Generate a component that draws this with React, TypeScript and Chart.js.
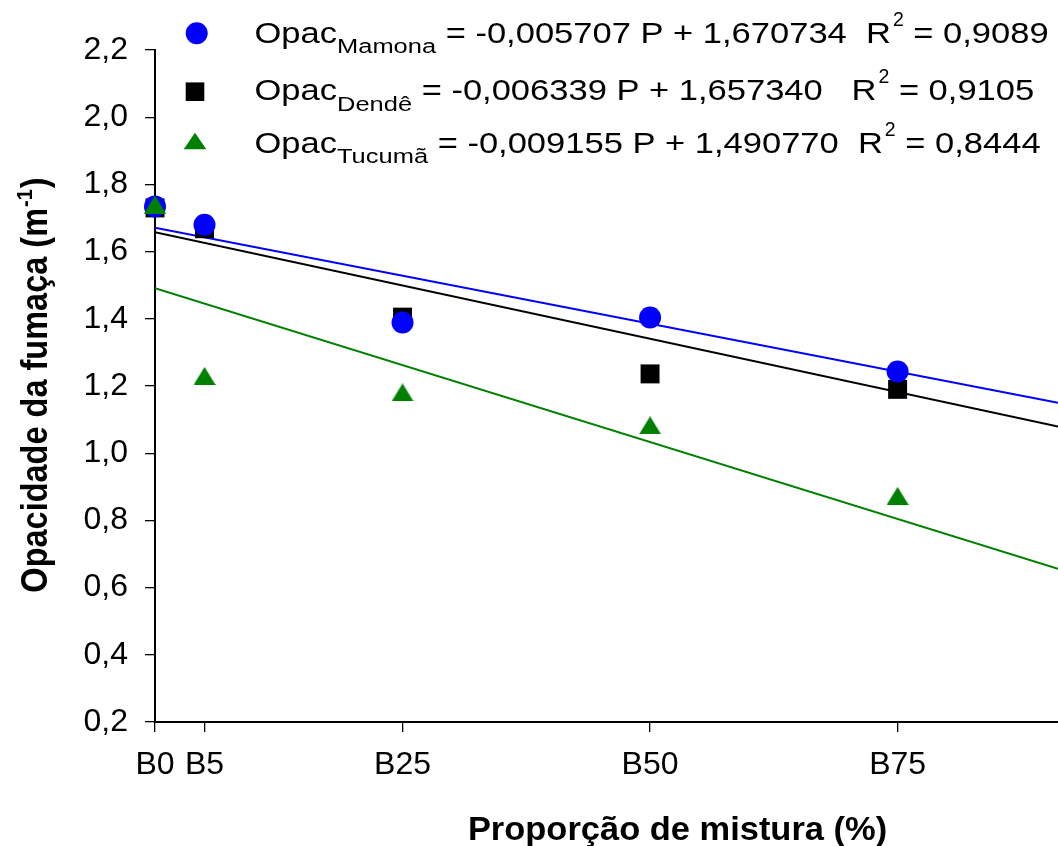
import React, { useEffect, useRef } from 'react';
import { Chart, registerables } from 'chart.js';

Chart.register(...registerables);

// ---- data ----
const xTickValues = [0, 5, 25, 50, 75];
const xTickLabels = ['B0', 'B5', 'B25', 'B50', 'B75'];
const yTickValues = [0.2, 0.4, 0.6, 0.8, 1.0, 1.2, 1.4, 1.6, 1.8, 2.0, 2.2];
const mamonaValues = [1.734, 1.680, 1.389, 1.404, 1.243];
const dendeValues = [1.730, 1.668, 1.405, 1.236, 1.190];
const tucumaValues = [1.740, 1.230, 1.181, 1.083, 0.873];
const seriesNames = ['Mamona', 'Dendê', 'Tucumã'];
const intercepts = [1.670734, 1.65734, 1.49077];
const slopes = [-0.005707, -0.006339, -0.009155];
const equationTexts = [
  ' = -0,005707 P + 1,670734  R',
  ' = -0,006339 P + 1,657340   R',
  ' = -0,009155 P + 1,490770  R',
];
const r2Texts = [' = 0,9089', ' = 0,9105', ' = 0,8444'];
const seriesColors = ['#0000ff', '#000000', '#008000'];
const xTitle = 'Proporção de mistura (%)';
const yTitleMain = 'Opacidade da fumaça (m';
const yTitleSup = '-1';
const yTitleEnd = ')';
const X_MIN = 0;
const X_MAX = 91.2;
const Y_MIN = 0.2;
const Y_MAX = 2.2;

const FONT = '"Liberation Sans", Arial, Helvetica, sans-serif';

function makeTriangle(w: number, h: number, color: string) {
  const c = document.createElement('canvas');
  c.width = w;
  c.height = h;
  const ctx = c.getContext('2d')!;
  ctx.fillStyle = color;
  ctx.beginPath();
  ctx.moveTo(w / 2, 0);
  ctx.lineTo(w, h);
  ctx.lineTo(0, h);
  ctx.closePath();
  ctx.fill();
  return c;
}

function seg(ctx: CanvasRenderingContext2D, text: string, x: number, y: number, size: number, sx: number, bold = false) {
  ctx.font = `${bold ? 'bold ' : ''}${size}px ${FONT}`;
  ctx.save();
  ctx.translate(x, y);
  ctx.scale(sx, 1);
  ctx.fillText(text, 0, 0);
  ctx.restore();
  return ctx.measureText(text).width * sx;
}

const overlayPlugin = {
  id: 'overlay',
  afterDraw(chart: any) {
    const ctx: CanvasRenderingContext2D = chart.ctx;
    ctx.save();
    ctx.fillStyle = '#000';
    ctx.textAlign = 'left';
    ctx.textBaseline = 'alphabetic';

    // legend markers
    const markerCenters = [
      [196.7, 33.3],
      [195, 91.7],
      [195, 141],
    ];
    ctx.fillStyle = seriesColors[0];
    ctx.beginPath();
    ctx.arc(markerCenters[0][0], markerCenters[0][1], 11, 0, Math.PI * 2);
    ctx.fill();
    ctx.fillStyle = seriesColors[1];
    ctx.fillRect(markerCenters[1][0] - 9.3, markerCenters[1][1] - 9.3, 18.6, 18.6);
    ctx.fillStyle = seriesColors[2];
    ctx.beginPath();
    ctx.moveTo(markerCenters[2][0], markerCenters[2][1] - 8.2);
    ctx.lineTo(markerCenters[2][0] + 11.3, markerCenters[2][1] + 8.2);
    ctx.lineTo(markerCenters[2][0] - 11.3, markerCenters[2][1] + 8.2);
    ctx.closePath();
    ctx.fill();

    // legend text
    ctx.fillStyle = '#000';
    const baselines = [42.7, 100, 152.7];
    const mainSize = 29.5;
    const mainSx = 1.17;
    const subSize = 19.6;
    const subSx = 1.3;
    for (let i = 0; i < 3; i++) {
      let x = 254.5;
      const b = baselines[i];
      x += seg(ctx, 'Opac', x, b, mainSize, mainSx);
      x += seg(ctx, seriesNames[i], x, b + 10.5, subSize, subSx);
      x += seg(ctx, equationTexts[i], x, b, mainSize, mainSx);
      x += seg(ctx, '2', x + 2, b - 17, 19.5, 1.0) + 2;
      seg(ctx, r2Texts[i], x, b, mainSize, mainSx);
    }

    // x title
    ctx.font = `bold 32.5px ${FONT}`;
    const xtw = ctx.measureText(xTitle).width * 1.06;
    seg(ctx, xTitle, 677.5 - xtw / 2, 840, 32.5, 1.06, true);

    // y title
    ctx.save();
    ctx.translate(47, 386);
    ctx.rotate(-Math.PI / 2);
    ctx.scale(1, 1.12);
    ctx.font = `bold 32.5px ${FONT}`;
    const w1 = ctx.measureText(yTitleMain).width;
    const w3 = ctx.measureText(yTitleEnd).width;
    ctx.font = `bold 20px ${FONT}`;
    const w2 = ctx.measureText(yTitleSup).width;
    const start = -(w1 + w2 + w3) / 2;
    ctx.font = `bold 32.5px ${FONT}`;
    ctx.fillText(yTitleMain, start, 0);
    ctx.font = `bold 20px ${FONT}`;
    ctx.fillText(yTitleSup, start + w1 + 1, -13);
    ctx.font = `bold 32.5px ${FONT}`;
    ctx.fillText(yTitleEnd, start + w1 + w2 + 2, 0);
    ctx.restore();

    ctx.restore();
  },
};

export default function App() {
  const canvasRef = useRef<HTMLCanvasElement | null>(null);

  useEffect(() => {
    const canvas = canvasRef.current;
    if (!canvas) return;

    const toPoints = (vals: number[]) => vals.map((v, i) => ({ x: xTickValues[i], y: v }));
    const trend = (i: number) => [
      { x: X_MIN, y: intercepts[i] + slopes[i] * X_MIN },
      { x: X_MAX, y: intercepts[i] + slopes[i] * X_MAX },
    ];

    const tri = makeTriangle(22, 18, seriesColors[2]);

    const chart = new Chart(canvas, {
      type: 'scatter',
      data: {
        datasets: [
          {
            label: 'Tucumã',
            data: toPoints(tucumaValues),
            pointStyle: tri as any,
            pointRadius: 11,
            backgroundColor: seriesColors[2],
            borderColor: seriesColors[2],
            pointBorderWidth: 0,
            showLine: false,
            clip: false,
          },
          {
            label: 'Mamona',
            data: toPoints(mamonaValues),
            pointStyle: 'circle',
            pointRadius: 11,
            backgroundColor: seriesColors[0],
            borderColor: seriesColors[0],
            pointBorderWidth: 0,
            showLine: false,
            clip: false,
          },
          {
            label: 'Dendê',
            data: toPoints(dendeValues),
            pointStyle: 'rect',
            pointRadius: 13.4,
            backgroundColor: seriesColors[1],
            borderColor: seriesColors[1],
            pointBorderWidth: 0,
            showLine: false,
            clip: false,
          },
          {
            label: 'Mamona trend',
            data: trend(0),
            showLine: true,
            pointRadius: 0,
            borderColor: seriesColors[0],
            borderWidth: 2,
          },
          {
            label: 'Dendê trend',
            data: trend(1),
            showLine: true,
            pointRadius: 0,
            borderColor: seriesColors[1],
            borderWidth: 2,
          },
          {
            label: 'Tucumã trend',
            data: trend(2),
            showLine: true,
            pointRadius: 0,
            borderColor: seriesColors[2],
            borderWidth: 2,
          },
        ],
      },
      options: {
        responsive: false,
        animation: false,
        events: [],
        layout: { autoPadding: false, padding: { top: 50, right: 0, left: 0, bottom: 0 } },
        plugins: {
          legend: { display: false },
          tooltip: { enabled: false },
          title: { display: false },
        },
        scales: {
          x: {
            type: 'linear',
            min: X_MIN,
            max: X_MAX,
            afterBuildTicks: (scale: any) => {
              scale.ticks = xTickValues.map((v) => ({ value: v }));
            },
            afterFit: (scale: any) => {
              scale.height = 124;
              scale.paddingRight = 0;
              scale.paddingLeft = 0;
            },
            ticks: {
              autoSkip: false,
              maxRotation: 0,
              padding: 14,
              color: '#000',
              font: { family: FONT, size: 32 },
              callback: (v: any) => {
                const idx = xTickValues.indexOf(Number(v));
                return idx >= 0 ? xTickLabels[idx] : '';
              },
            },
            grid: {
              drawOnChartArea: false,
              drawTicks: true,
              tickLength: 10,
              color: '#000',
              lineWidth: 1.3,
            },
            border: { display: true, color: '#000', width: 2 },
          },
          y: {
            type: 'linear',
            min: Y_MIN,
            max: Y_MAX,
            afterBuildTicks: (scale: any) => {
              scale.ticks = yTickValues.map((v) => ({ value: v }));
            },
            afterFit: (scale: any) => {
              scale.width = 155;
            },
            ticks: {
              autoSkip: false,
              padding: 17,
              color: '#000',
              font: { family: FONT, size: 32 },
              callback: (v: any) => Number(v).toFixed(1).replace('.', ','),
            },
            grid: {
              drawOnChartArea: false,
              drawTicks: true,
              tickLength: 10,
              color: '#000',
              lineWidth: 1.3,
            },
            border: { display: true, color: '#000', width: 2 },
          },
        },
      },
      plugins: [overlayPlugin],
    } as any);

    return () => {
      chart.destroy();
    };
  }, []);

  return (
    <div style={{ position: 'absolute', left: 0, top: 0, width: 1058, height: 846, background: '#fff' }}>
      <canvas ref={canvasRef} width={1058} height={846} style={{ display: 'block' }} />
    </div>
  );
}
